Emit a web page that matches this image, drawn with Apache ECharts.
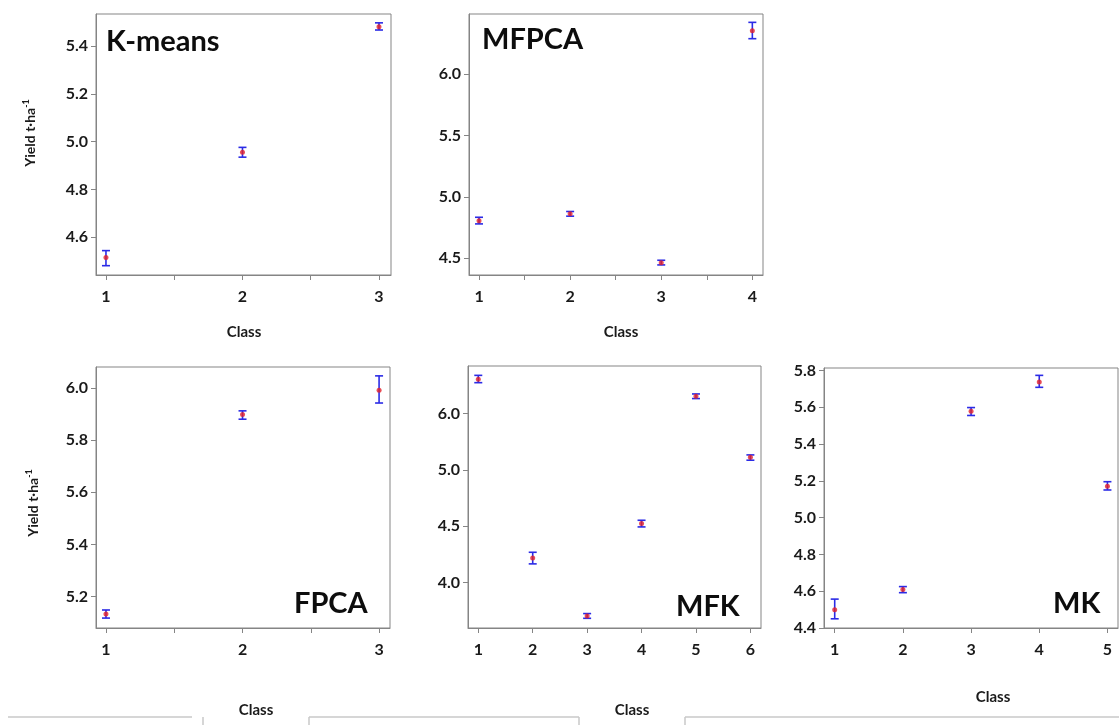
<!DOCTYPE html>
<html>
<head>
<meta charset="utf-8">
<script src="https://cdn.jsdelivr.net/npm/echarts@6/dist/echarts.min.js"></script>
<style>
  html, body { margin: 0; padding: 0; background: #fff; }
  #main { width: 1119px; height: 725px; }
</style>
</head>
<body>
<div id="main"></div>
<script>
// K-means
var kmClass = [1, 2, 3];
var kmMean = [4.515, 4.956, 5.481];
var kmLow = [4.481, 4.935, 5.467];
var kmHigh = [4.544, 4.976, 5.497];
var kmYTicks = [4.6, 4.8, 5.0, 5.2, 5.4];
var kmYLabels = ['4.6', '4.8', '5.0', '5.2', '5.4'];
var kmXTicks = [1, 1.5, 2, 2.5, 3];

// MFPCA
var mfpcaClass = [1, 2, 3, 4];
var mfpcaMean = [4.805, 4.862, 4.464, 6.353];
var mfpcaLow = [4.780, 4.843, 4.446, 6.288];
var mfpcaHigh = [4.834, 4.881, 4.484, 6.421];
var mfpcaYTicks = [4.5, 5.0, 5.5, 6.0];
var mfpcaYLabels = ['4.5', '5.0', '5.5', '6.0'];
var mfpcaXTicks = [1, 1.5, 2, 2.5, 3, 3.5, 4];

// FPCA
var fpcaClass = [1, 2, 3];
var fpcaMean = [5.134, 5.898, 5.991];
var fpcaLow = [5.118, 5.880, 5.942];
var fpcaHigh = [5.149, 5.912, 6.046];
var fpcaYTicks = [5.2, 5.4, 5.6, 5.8, 6.0];
var fpcaYLabels = ['5.2', '5.4', '5.6', '5.8', '6.0'];
var fpcaXTicks = [1, 1.5, 2, 2.5, 3];

// MFK (the top tick is printed as 6.0 in the original figure)
var mfkClass = [1, 2, 3, 4, 5, 6];
var mfkMean = [5.804, 4.218, 3.704, 4.524, 5.654, 5.113];
var mfkLow = [5.774, 4.166, 3.683, 4.494, 5.633, 5.086];
var mfkHigh = [5.839, 4.269, 3.725, 4.553, 5.674, 5.133];
var mfkYTicks = [4.0, 4.5, 5.0, 5.5];
var mfkYLabels = ['4.0', '4.5', '5.0', '6.0'];
var mfkXTicks = [1, 2, 3, 4, 5, 6];

// MK
var mkClass = [1, 2, 3, 4, 5];
var mkMean = [4.499, 4.609, 5.578, 5.737, 5.171];
var mkLow = [4.450, 4.592, 5.555, 5.708, 5.150];
var mkHigh = [4.557, 4.625, 5.598, 5.773, 5.195];
var mkYTicks = [4.4, 4.6, 4.8, 5.0, 5.2, 5.4, 5.6, 5.8];
var mkYLabels = ['4.4', '4.6', '4.8', '5.0', '5.2', '5.4', '5.6', '5.8'];
var mkXTicks = [1, 2, 3, 4, 5];

var FONT = 'Lato, "Open Sans", sans-serif';
var GREY = '#858585';

var panels = [
    {cls: kmClass, mean: kmMean, lo: kmLow, hi: kmHigh, yTicks: kmYTicks, yLabels: kmYLabels, xTicks: kmXTicks,
     grid: {left: 96, top: 14, width: 295, height: 261}, x: [0.927, 3.088], y: [4.442, 5.534]},
    {cls: mfpcaClass, mean: mfpcaMean, lo: mfpcaLow, hi: mfpcaHigh, yTicks: mfpcaYTicks, yLabels: mfpcaYLabels, xTicks: mfpcaXTicks,
     grid: {left: 469, top: 14, width: 294, height: 261}, x: [0.89, 4.117], y: [4.364, 6.489]},
    {cls: fpcaClass, mean: fpcaMean, lo: fpcaLow, hi: fpcaHigh, yTicks: fpcaYTicks, yLabels: fpcaYLabels, xTicks: fpcaXTicks,
     grid: {left: 96, top: 367, width: 294, height: 261}, x: [0.927, 3.08], y: [5.080, 6.080]},
    {cls: mfkClass, mean: mfkMean, lo: mfkLow, hi: mfkHigh, yTicks: mfkYTicks, yLabels: mfkYLabels, xTicks: mfkXTicks,
     grid: {left: 468, top: 366, width: 293, height: 262}, x: [0.811, 6.195], y: [3.597, 5.922]},
    {cls: mkClass, mean: mkMean, lo: mkLow, hi: mkHigh, yTicks: mkYTicks, yLabels: mkYLabels, xTicks: mkXTicks,
     grid: {left: 824, top: 368, width: 294, height: 260}, x: [0.843, 5.155], y: [4.4, 5.813]}
];

function labelFor(ticks, labels) {
    return function (v) {
        for (var i = 0; i < ticks.length; i++) {
            if (Math.abs(ticks[i] - v) < 1e-6) return labels[i];
        }
        return '';
    };
}

function renderErrorBar(params, api) {
    var x = api.value(0);
    var top = api.coord([x, api.value(2)]);
    var bot = api.coord([x, api.value(1)]);
    var hw = 4;
    var st = {stroke: '#2b2be6', lineWidth: 1.6};
    return {
        type: 'group',
        children: [
            {type: 'line', shape: {x1: top[0], y1: top[1], x2: bot[0], y2: bot[1]}, style: st},
            {type: 'line', shape: {x1: top[0] - hw, y1: top[1], x2: top[0] + hw, y2: top[1]}, style: st},
            {type: 'line', shape: {x1: bot[0] - hw, y1: bot[1], x2: bot[0] + hw, y2: bot[1]}, style: st}
        ]
    };
}

var grids = [], xAxes = [], yAxes = [], series = [];
panels.forEach(function (p, k) {
    grids.push({
        left: p.grid.left, top: p.grid.top, width: p.grid.width, height: p.grid.height,
        show: true, borderColor: GREY, borderWidth: 1, backgroundColor: '#fff'
    });
    xAxes.push({
        type: 'value', gridIndex: k, min: p.x[0], max: p.x[1],
        axisLine: {show: true, lineStyle: {color: GREY}},
        axisTick: {show: true, length: 5, customValues: p.xTicks, lineStyle: {color: GREY}},
        axisLabel: {customValues: p.cls, margin: 14, color: '#1a1a1a', fontSize: 16, fontWeight: 'bold', fontFamily: FONT},
        splitLine: {show: false}
    });
    yAxes.push({
        type: 'value', gridIndex: k, min: p.y[0], max: p.y[1],
        axisLine: {show: true, lineStyle: {color: GREY}},
        axisTick: {show: true, length: 5, customValues: p.yTicks, lineStyle: {color: GREY}},
        axisLabel: {customValues: p.yTicks, margin: 8, color: '#1a1a1a', fontSize: 16, fontWeight: 'bold',
                    fontFamily: FONT, formatter: labelFor(p.yTicks, p.yLabels)},
        splitLine: {show: false}
    });
    var bars = [], pts = [];
    for (var i = 0; i < p.cls.length; i++) {
        bars.push([p.cls[i], p.lo[i], p.hi[i]]);
        pts.push([p.cls[i], p.mean[i]]);
    }
    series.push({
        type: 'custom', xAxisIndex: k, yAxisIndex: k, data: bars,
        renderItem: renderErrorBar, clip: false, silent: true, z: 2
    });
    series.push({
        type: 'scatter', xAxisIndex: k, yAxisIndex: k, data: pts,
        symbol: 'circle', symbolSize: 5, itemStyle: {color: '#e3202a'}, silent: true, z: 3
    });
});

function titleText(txt, x, y) {
    return {type: 'text', x: x, y: y, z: 10,
            style: {text: txt, fill: '#0d0d0d', font: 'bold 29px ' + FONT, verticalAlign: 'middle'}};
}
function className(x, y) {
    return {type: 'text', x: x, y: y, z: 10,
            style: {text: 'Class', fill: '#1a1a1a', font: 'bold 15px ' + FONT, align: 'center', verticalAlign: 'middle'}};
}
function yieldName(x, y) {
    return {type: 'text', x: x, y: y, rotation: Math.PI / 2, z: 10,
            style: {text: 'Yield t\u00b7ha{sup|-1}', fill: '#1a1a1a', font: 'bold 14px ' + FONT,
                    align: 'center', verticalAlign: 'middle',
                    rich: {sup: {fontSize: 9, fontWeight: 'bold', fontFamily: FONT, fill: '#1a1a1a', padding: [0, 0, 8, 0]}}}};
}
function edge(x1, y1, x2, y2) {
    return {type: 'line', shape: {x1: x1, y1: y1, x2: x2, y2: y2},
            style: {stroke: '#c8c8c8', lineWidth: 1.5}, silent: true};
}

var graphics = [
    titleText('K-means', 106, 42),
    titleText('MFPCA', 482, 40),
    titleText('FPCA', 294, 604),
    titleText('MFK', 676, 607),
    titleText('MK', 1053, 604),
    className(244, 332), className(621, 332),
    className(256, 710), className(632, 710), className(993, 697),
    yieldName(30, 133), yieldName(33, 503),
    // fragments of neighbouring frames along the bottom edge
    edge(8, 717, 192, 717), edge(203, 717, 203, 725),
    edge(309, 717, 579, 717), edge(309, 717, 309, 725), edge(579, 717, 579, 725),
    edge(685, 717, 1119, 717), edge(685, 717, 685, 725)
];

var chart = echarts.init(document.getElementById('main'));
chart.setOption({
    backgroundColor: '#fff',
    animation: false,
    grid: grids,
    xAxis: xAxes,
    yAxis: yAxes,
    series: series,
    graphic: graphics
});
</script>
</body>
</html>
